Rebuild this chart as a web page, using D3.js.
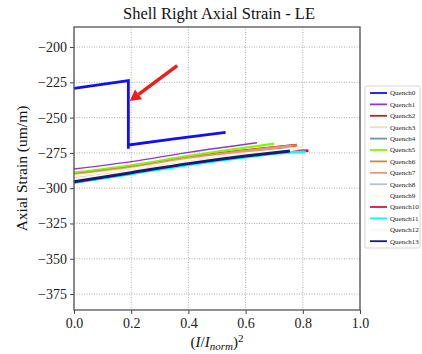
<!DOCTYPE html>
<html>
<head>
<meta charset="utf-8">
<script src="https://cdn.jsdelivr.net/npm/d3@7"></script>
<style>
    body { margin: 0; background: #fff; }
    text { font-family: "Liberation Serif", "DejaVu Serif", serif; }
</style>
</head>
<body>
<svg id="chart" width="422" height="354"></svg>
<script>
// series data: [x, y] with x = (I/Inorm)^2, y = strain
const seriesNames = ["Quench0", "Quench1", "Quench2", "Quench3", "Quench4", "Quench5", "Quench6",
    "Quench7", "Quench8", "Quench9", "Quench10", "Quench11", "Quench12", "Quench13"];
const seriesColors = ["#1010f0", "#9932cc", "#a52a2a", "#f5deb3", "#5f9ea0", "#7cfc00", "#cd853f",
    "#e9967a", "#b0c4de", "#fff8dc", "#dc143c", "#00ffff", "#fff5ee", "#191970"];
const seriesWidths = [2.8, 1.4, 2.4, 2.4, 2.4, 2.4, 2.4, 2.4, 2.4, 2.4, 2.6, 2.8, 2.4, 3];

const quench0 = [[0, -229.3], [0.19, -223.8], [0.19, -272], [0.19, -269.4], [0.35, -265], [0.53, -260.4]];
const quench1 = [[0, -286.4], [0.2, -281.2], [0.4, -274.6], [0.64, -267.8]];
const quench2 = [[0, -289.6], [0.2, -284.6], [0.4, -278.2], [0.78, -269.4]];
const quench3 = [[0, -291.8], [0.2, -286.8], [0.4, -280.4], [0.8, -271.2]];
const quench4 = [[0, -290.8], [0.2, -285.8], [0.4, -279.4], [0.74, -271]];
const quench5 = [[0, -289], [0.2, -283.8], [0.4, -277.2], [0.7, -268.4]];
const quench6 = [[0, -290.2], [0.2, -285.2], [0.4, -278.6], [0.78, -269.6]];
const quench7 = [[0, -290.6], [0.2, -285.6], [0.4, -279], [0.76, -270.2]];
const quench8 = [[0, -293], [0.2, -287.6], [0.4, -281.2], [0.75, -272.6]];
const quench9 = [[0, -291.4], [0.2, -286.4], [0.4, -280], [0.8, -271.6]];
const quench10 = [[0, -295.8], [0.2, -289.6], [0.4, -283], [0.6, -277.6], [0.755, -274.2], [0.82, -273.4]];
const quench11 = [[0, -296], [0.2, -289.8], [0.4, -283.4], [0.6, -278], [0.755, -274.6], [0.81, -274.3]];
const quench12 = [[0, -293.6], [0.2, -288.2], [0.4, -281.8], [0.78, -272.2]];
const quench13 = [[0, -295.4], [0.2, -289], [0.4, -282.6], [0.6, -277.2], [0.755, -273.7]];
const allSeries = [quench0, quench1, quench2, quench3, quench4, quench5, quench6,
    quench7, quench8, quench9, quench10, quench11, quench12, quench13];

const xTicks = [0, 0.2, 0.4, 0.6, 0.8, 1.0];
const yTicks = [-375, -350, -325, -300, -275, -250, -225, -200];
const xDomain = [0, 1];
const yDomain = [-386.3, -185.8];

// arrow annotation: tail and tip, in data units
const arrowFrom = [0.361, -213.2];
const arrowTo = [0.195, -238.2];

const svg = d3.select("#chart");
const m = { left: 74, right: 360, top: 27, bottom: 310 };

const x = d3.scaleLinear().domain(xDomain).range([m.left, m.right]);
const y = d3.scaleLinear().domain(yDomain).range([m.bottom, m.top]);

// grid
const grid = svg.append("g");
grid.selectAll(".gx").data(xTicks).enter().append("line")
    .attr("x1", d => x(d)).attr("x2", d => x(d))
    .attr("y1", m.top).attr("y2", m.bottom)
    .attr("stroke", "#999").attr("stroke-width", 0.8).attr("stroke-dasharray", "1,1.5");
grid.selectAll(".gy").data(yTicks).enter().append("line")
    .attr("x1", m.left).attr("x2", m.right)
    .attr("y1", d => y(d)).attr("y2", d => y(d))
    .attr("stroke", "#999").attr("stroke-width", 0.8).attr("stroke-dasharray", "1,1.5");

// series
const line = d3.line().x(d => x(d[0])).y(d => y(d[1])).curve(d3.curveMonotoneX);
const lineSharp = d3.line().x(d => x(d[0])).y(d => y(d[1]));
allSeries.forEach((pts, i) => {
    svg.append("path")
        .attr("d", i === 0 ? lineSharp(pts) : line(pts))
        .attr("fill", "none")
        .attr("stroke", seriesColors[i])
        .attr("stroke-width", seriesWidths[i])
        .attr("stroke-linejoin", "miter");
});

// red arrow
const ax0 = x(arrowFrom[0]), ay0 = y(arrowFrom[1]);
const ax1 = x(arrowTo[0]), ay1 = y(arrowTo[1]);
const ang = Math.atan2(ay1 - ay0, ax1 - ax0);
const headLen = 11, headW = 6;
const bx = ax1 - headLen * Math.cos(ang), by = ay1 - headLen * Math.sin(ang);
svg.append("line")
    .attr("x1", ax0).attr("y1", ay0).attr("x2", bx).attr("y2", by)
    .attr("stroke", "#e8201c").attr("stroke-width", 3.5);
svg.append("path")
    .attr("d", `M${ax1},${ay1} L${bx + headW * Math.sin(ang)},${by - headW * Math.cos(ang)} L${bx - headW * Math.sin(ang)},${by + headW * Math.cos(ang)} Z`)
    .attr("fill", "#e8201c");

// axes
const xAxis = svg.append("g").attr("transform", `translate(0,${m.bottom})`)
    .call(d3.axisBottom(x).tickValues(xTicks).tickFormat(d3.format(".1f")).tickSize(4).tickPadding(4));
const yAxis = svg.append("g").attr("transform", `translate(${m.left},0)`)
    .call(d3.axisLeft(y).tickValues(yTicks).tickFormat(d => d3.format("d")(d).replace("-", "\u2212")).tickSize(4).tickPadding(3));
[xAxis, yAxis].forEach(g => {
    g.select(".domain").remove();
    g.selectAll("line").attr("stroke", "#444");
    g.selectAll("text").attr("font-size", 14).attr("fill", "#222")
        .style("font-family", "'Liberation Serif', serif");
});

// frame
svg.append("rect")
    .attr("x", m.left).attr("y", m.top).attr("width", m.right - m.left).attr("height", m.bottom - m.top)
    .attr("fill", "none").attr("stroke", "#555").attr("stroke-width", 1.3);

// title and labels
svg.append("text").attr("x", (m.left + m.right) / 2 + 2).attr("y", 19)
    .attr("text-anchor", "middle").attr("font-size", 16.5).attr("fill", "#111")
    .text("Shell Right Axial Strain - LE");

svg.append("text")
    .attr("transform", `translate(27,${(m.top + m.bottom) / 2}) rotate(-90)`)
    .attr("text-anchor", "middle").attr("font-size", 15.5).attr("fill", "#111")
    .text("Axial Strain (um/m)");

const xl = svg.append("text").attr("x", (m.left + m.right) / 2).attr("y", 347)
    .attr("text-anchor", "middle").attr("font-size", 15).attr("fill", "#111");
xl.append("tspan").text("(");
xl.append("tspan").attr("font-style", "italic").text("I");
xl.append("tspan").text("/");
xl.append("tspan").attr("font-style", "italic").text("I");
xl.append("tspan").attr("font-style", "italic").attr("font-size", 11).attr("dy", 3).text("norm");
xl.append("tspan").attr("dy", -3).text(")");
xl.append("tspan").attr("font-size", 11).attr("dy", -5).text("2");

// legend
const lg = svg.append("g").attr("transform", "translate(365,86)");
lg.append("rect").attr("x", 0).attr("y", 0).attr("width", 55).attr("height", 162)
    .attr("fill", "#fff").attr("stroke", "#ccc").attr("stroke-width", 0.8).attr("rx", 1.5);
const items = lg.selectAll(".item").data(seriesNames).enter().append("g")
    .attr("transform", (d, i) => `translate(0,${7 + i * 11.4})`);
items.append("line").attr("x1", 5).attr("x2", 22).attr("y1", 0).attr("y2", 0)
    .attr("stroke", (d, i) => seriesColors[i]).attr("stroke-width", 1.8);
items.append("text").attr("x", 25).attr("y", 2.4).attr("font-size", 7).attr("fill", "#222")
    .text(d => d);
</script>
</body>
</html>
